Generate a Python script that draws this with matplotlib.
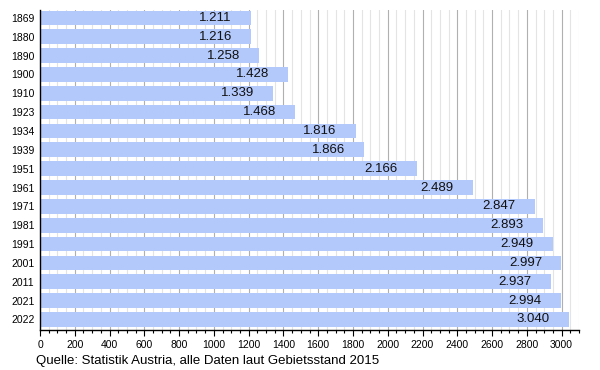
import numpy as np
import matplotlib.pyplot as plt
from matplotlib.ticker import MultipleLocator

plt.rcParams['font.family'] = ['Liberation Sans', 'DejaVu Sans']

# Daten
years = ['1869', '1880', '1890', '1900', '1910', '1923', '1934', '1939', '1951',
         '1961', '1971', '1981', '1991', '2001', '2011', '2021', '2022']
values = [1211, 1216, 1258, 1428, 1339, 1468, 1816, 1866, 2166,
          2489, 2847, 2893, 2949, 2997, 2937, 2994, 3040]
source = 'Quelle: Statistik Austria, alle Daten laut Gebietsstand 2015'

fig = plt.figure(figsize=(6, 3.7), dpi=100)
ax = fig.add_axes([40 / 600, 1 - 330 / 370, 539 / 600, 320 / 370])

y = np.arange(len(years))
ax.barh(y, values, height=0.78, color='#b3c8fb', zorder=2)

for yi, v in zip(y, values):
    label = f'{v / 1000:.3f}'
    ax.text(v - 205, yi, label, ha='center', va='center', fontsize=9.5, color='#111111', zorder=3)

ax.set_yticks(y)
ax.set_yticklabels(years, fontsize=7.5)
ax.tick_params(axis='y', length=0, pad=4)
ax.set_ylim(16.56, -0.42)

ax.set_xlim(0, 3100)
ax.xaxis.set_major_locator(MultipleLocator(200))
ax.xaxis.set_minor_locator(MultipleLocator(50))
ax.tick_params(axis='x', which='major', length=4, width=0.8, labelsize=7.5, pad=3)
ax.tick_params(axis='x', which='minor', length=2, width=0.8)
ax.grid(axis='x', which='major', color='#b0b0b0', linewidth=0.8, zorder=0)
ax.grid(axis='x', which='minor', color='#e4e4e4', linewidth=0.8, zorder=0)

for side in ['top', 'right']:
    ax.spines[side].set_visible(False)
ax.spines['left'].set_linewidth(1)
ax.spines['bottom'].set_linewidth(1)

fig.text(36 / 600, 1 - 361 / 370, source, fontsize=9.5, va='center', ha='left')

fig.savefig('out.png', dpi=100)
